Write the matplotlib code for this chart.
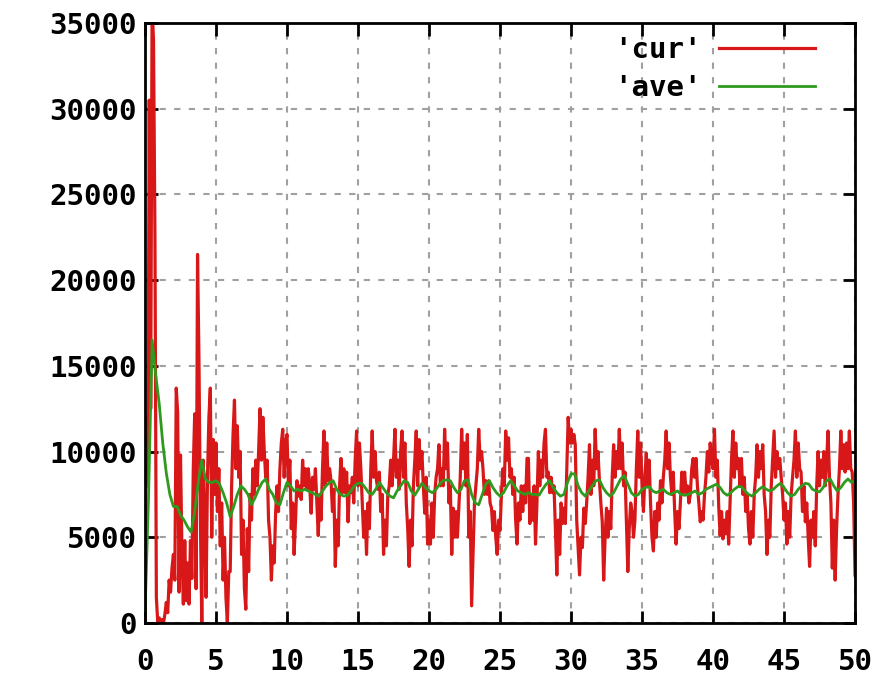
import numpy as np
import matplotlib
matplotlib.use('Agg')
import matplotlib.pyplot as plt

# 'cur' sampled every 0.1 s, from 0 to 50 (one row = one unit of x)
cur = [
    0, 12000, 8000, 30500, 12500, 36000, 34000, 22700, 1500, 0,
    300, 0, 200, 0, 500, 1200, 600, 2500, 1800, 3200,
    4000, 2500, 13700, 12300, 1800, 9800, 4300, 1100, 4800, 1300,
    3500, 1100, 4800, 2600, 9000, 12200, 2000, 21500, 15400, 6000,
    0, 9500, 6300, 1500, 8500, 12000, 13700, 5000, 10700, 7500,
    10500, 6500, 9000, 4500, 7000, 2500, 5000, 1500, 0, 3000,
    3000, 8000, 11000, 13000, 9000, 11500, 8500, 10000, 4000, 6000,
    2000, 800, 5500, 3000, 7500, 6000, 9000, 7500, 9500, 8000,
    10000, 12500, 9500, 12000, 10000, 8500, 9500, 6000, 5000, 2500,
    4500, 3500, 6500, 8000, 6500, 9000, 10500, 11300, 8500, 10500,
    11000, 8000, 9500, 5500, 7000, 4000, 6000, 8300, 7400, 8000,
    7200, 9500, 8000, 9000, 7800, 9000, 8000, 6400, 8500, 7800,
    9000, 7000, 5100, 7500, 6000, 9000, 11200, 8000, 10500, 8300,
    9000, 8300, 6500, 7800, 3300, 6000, 4500, 8000, 9600, 7600,
    9000, 7600, 8800, 5900, 8000, 7600, 8500, 7000, 9500, 11200,
    8000, 10500, 9000, 7000, 5000, 6500, 4000, 7000, 5500, 9000,
    11200, 8500, 10000, 8300, 7800, 8800, 6500, 7500, 4000, 6000,
    4500, 7500, 8000, 9500, 8000, 9500, 11300, 8500, 9500, 7800,
    10000, 11200, 8500, 10500, 7000, 5500, 3300, 6000, 4500, 8000,
    9500, 11200, 8000, 10700, 9000, 10000, 8000, 6400, 8500, 4600,
    6000, 4600, 7000, 5000, 7500, 8500, 9000, 10400, 8000, 9000,
    8000, 11300, 9000, 10500, 7000, 8000, 4000, 6700, 5000, 6500,
    5000, 6700, 8500, 11300, 9000, 10500, 8000, 11000, 5000, 6500,
    1000, 4000, 7000, 8000, 9000, 11300, 9500, 10000, 9000, 7500,
    8300, 7500, 8300, 7000, 6700, 5400, 6500, 5000, 4000, 6000,
    5400, 7500, 9000, 8000, 11200, 9500, 10800, 8500, 9000, 7500,
    8500, 6000, 4600, 7000, 6000, 8000, 6500, 8000, 7000, 9600,
    9600, 5800, 7500, 6000, 8000, 4600, 7000, 10000, 8000, 9500,
    8500, 10500, 11300, 8500, 8800, 7600, 8500, 7600, 8000, 5500,
    2800, 6000, 4000, 7000, 5800, 6700, 5800, 9000, 12000, 10500,
    11300, 10500, 11000, 10400, 6000, 4400, 2800, 5000, 4400, 6700,
    5800, 7000, 8500, 10400, 7500, 9500, 8000, 11300, 9000, 10000,
    8300, 7000, 5900, 2500, 5000, 6700, 5000, 6500, 5500, 8500,
    10400, 8500, 10000, 9000, 11300, 9000, 10500, 8000, 8800, 6000,
    3000, 5500, 7000, 6500, 5000, 6000, 9000, 11200, 8500, 10500,
    8000, 6500, 8500, 9900, 8000, 9500, 7000, 5000, 4200, 6500,
    5000, 7000, 6000, 8300, 7000, 8500, 9500, 11200, 9000, 10500,
    8500, 7500, 8800, 6500, 4600, 6500, 5500, 7000, 8800, 7600,
    8800, 7600, 8000, 7000, 7500, 9000, 9600, 8500, 9600, 8000,
    7000, 5900, 6500, 6000, 7500, 8500, 10000, 8800, 10500, 9500,
    9000, 11300, 8500, 9500, 6800, 5100, 6500, 4900, 6000, 5200,
    6500, 4600, 7000, 9500, 11200, 8500, 10500, 9000, 9600, 8000,
    9600, 7500, 8500, 6500, 7500, 5500, 4600, 6500, 5000, 7500,
    8500, 10400, 8500, 10000, 9000, 10400, 7500, 6500, 4000, 6000,
    5000, 8000, 9600, 11200, 8500, 10000, 9000, 9600, 8500, 7500,
    6000, 7000, 4600, 6500, 5000, 7500, 8500, 9500, 11200, 8500,
    10500, 9000, 8800, 6500, 8000, 5900, 7000, 5000, 3300, 6000,
    5000, 6500, 4500, 8000, 10000, 8000, 9500, 8500, 10000, 8000,
    9500, 11200, 8500, 7000, 3200, 6000, 2500, 5500, 7500, 9000,
    11200, 9000, 10400, 8800, 10500, 9000, 11200, 9000, 8800, 7000,
    2800,
]

# 'ave' sampled every 0.25 s, from 0 to 50 (one row = two units of x)
ave = [
    500, 7350, 16500, 14500, 12800, 10500, 8750, 7500,
    6800, 6800, 6300, 6000, 5600, 5300, 6500, 8200,
    9500, 8400, 8200, 8200, 8300, 8100, 7600, 7000,
    6200, 6800, 7500, 8000, 7800, 7500, 6900, 7300,
    7800, 8200, 8400, 7800, 7500, 7000, 6900, 7600,
    8200, 8000, 7700, 7800, 7700, 7800, 7700, 7600,
    7500, 7400, 7700, 8000, 8200, 8300, 7800, 7500,
    7400, 7450, 7700, 8000, 8150, 8150, 7900, 7600,
    7500, 7800, 8200, 7900, 7600, 7400, 7300, 7700,
    8000, 8300, 8200, 7700, 7450, 7800, 8150, 7900,
    7700, 7600, 7800, 8100, 8300, 8350, 8300, 7900,
    7600, 7800, 8300, 8350, 7500, 7000, 6900, 7500,
    8100, 8300, 7900, 7600, 7400, 7600, 8000, 8300,
    8000, 7700, 7600, 7500, 7600, 7500, 7500, 7450,
    7800, 8100, 8300, 7900, 7600, 7400, 7500, 8200,
    8700, 8700, 8000, 7600, 7400, 7700, 8000, 8300,
    8350, 7900, 7600, 7400, 7600, 8000, 8400, 8600,
    8100, 7600, 7400, 7500, 7800, 7900, 7950, 7700,
    7600, 7700, 7800, 7600, 7500, 7600, 7700, 7500,
    7450, 7500, 7600, 7700, 7500, 7600, 7800, 7900,
    8000, 8100, 7900, 7600, 7450, 7600, 7800, 7950,
    7950, 7700, 7500, 7400, 7600, 7800, 7950, 7800,
    7700, 7800, 8000, 8150, 7900, 7600, 7400, 7500,
    7800, 8000, 8150, 8100, 7800, 7700, 7650, 7900,
    8300, 8400, 8000, 7700, 7900, 8200, 8400, 8200,
    8300,
]

x_ticks = [0, 5, 10, 15, 20, 25, 30, 35, 40, 45, 50]
y_ticks = [0, 5000, 10000, 15000, 20000, 25000, 30000, 35000]

if __name__ == '__main__':
    font = {'family': 'DejaVu Sans Mono', 'weight': 'bold', 'size': 21}
    matplotlib.rc('font', **font)

    fig = plt.figure(figsize=(8.89, 6.77), dpi=100)
    ax = fig.add_axes([0.1631, 0.0798, 0.7987, 0.8862])

    t_cur = np.linspace(0, 50, len(cur))
    t_ave = np.linspace(0, 50, len(ave))
    ax.plot(t_cur, cur, color='#d81818', linewidth=2.3, label="'cur'")
    ax.plot(t_ave, ave, color='#2e9a1e', linewidth=2.0, label="'ave'")

    ax.set_xlim(0, 50)
    ax.set_ylim(0, 35000)
    ax.set_xticks(x_ticks)
    ax.set_yticks(y_ticks)
    ax.grid(True, color='#a0a0a0', linestyle=(0, (3, 4)), linewidth=1.5)
    ax.set_axisbelow(True)

    for s in ax.spines.values():
        s.set_linewidth(2)
    ax.tick_params(direction='in', length=9, width=2, top=True, right=True)
    ax.tick_params(axis='y', pad=6)
    ax.tick_params(axis='x', pad=18)

    ax.legend(loc='upper right', bbox_to_anchor=(0.944, 0.978), frameon=False,
              markerfirst=False, handlelength=3.3, handletextpad=0.6,
              labelspacing=0.35, borderpad=0, borderaxespad=0)

    fig.savefig('out.png', dpi=100)
